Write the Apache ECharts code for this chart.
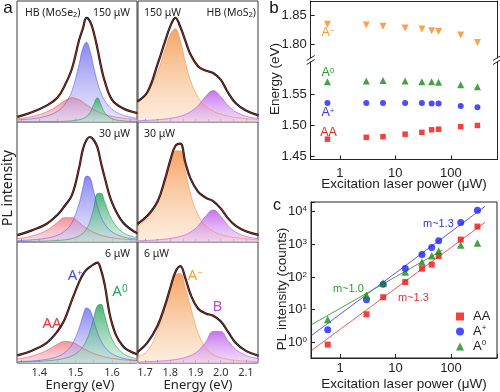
<!DOCTYPE html>
<html><head><meta charset="utf-8">
<script src="https://cdn.jsdelivr.net/npm/echarts@6/dist/echarts.min.js"></script>
<style>html,body{margin:0;padding:0;background:#fff}#c{width:500px;height:392px}</style>
</head><body><div id="c"></div>
<script>
// ---------- Panel a : PL spectra (intensity in arbitrary units, 0-100 = subpanel height) ----------
const energyLeft  = [1.34, 1.38, 1.42, 1.45, 1.47, 1.49, 1.51, 1.52, 1.53, 1.54, 1.55, 1.56, 1.57, 1.58, 1.60, 1.63, 1.67];
const energyRight = [1.67, 1.71, 1.75, 1.78, 1.80, 1.82, 1.84, 1.86, 1.88, 1.91, 1.94, 1.97, 2.00, 2.03, 2.06, 2.10, 2.15];
// MoSe2, 150 uW
const tl_AA    = [2.7, 4.5, 8.2, 13.4, 17.6, 20, 18.3, 16.4, 14.3, 12.2, 10.3, 8.8, 7.4, 6.3, 4.7, 3.2, 2.0];
const tl_Aplus = [1.7, 2.7, 4.9, 8.8, 14.3, 25.6, 48, 60.9, 66, 58.6, 45.2, 33, 24, 17.8, 10.6, 5.7, 3.0];
const tl_A0    = [0.1, 0.2, 0.3, 0.4, 0.6, 1.0, 1.9, 2.8, 4.4, 7.8, 14.4, 20, 14.4, 7.8, 2.8, 1.0, 0.4];
const tl_data  = [4.2, 8.0, 13.5, 20, 30, 44, 68, 77, 86, 83, 74, 61, 46, 34, 18.5, 11.3, 7.3];
// MoSe2, 30 uW
const ml_AA    = [2.8, 4.9, 9.6, 16.2, 20.3, 20.3, 16.2, 13.7, 11.5, 9.6, 8.0, 6.7, 5.7, 4.9, 3.6, 2.5, 1.6];
const ml_Aplus = [1.1, 1.8, 3.2, 5.6, 9.0, 16.1, 32.3, 44.8, 54.9, 53.5, 42.2, 30.1, 21.1, 15.1, 8.5, 4.4, 2.3];
const ml_A0    = [0.3, 0.5, 0.8, 1.3, 1.8, 2.9, 5.1, 7.2, 10.8, 17.2, 28.2, 40.4, 40.6, 33.6, 18.5, 8.0, 3.5];
const ml_data  = [5.7, 9.7, 15, 22.5, 30, 39, 62, 77, 85, 87.5, 85, 79, 66, 54, 33, 16.5, 7.2];
// MoSe2, 6 uW
const bl_AA    = [3.3, 5.7, 10.3, 15.5, 17.8, 17.2, 14.1, 12.3, 10.7, 9.1, 7.8, 6.7, 5.8, 5.1, 3.9, 2.7, 1.8];
const bl_Aplus = [1.1, 1.7, 3.0, 5.3, 8.5, 15.1, 29, 38.7, 45.5, 43.6, 34.8, 25.4, 18.3, 13.3, 7.7, 4.0, 2.1];
const bl_A0    = [0.8, 1.1, 1.8, 2.7, 3.9, 5.9, 9.9, 13.4, 18.7, 26.6, 37.3, 47.3, 48.5, 39.6, 20, 8.0, 3.3];
const bl_data  = [6.3, 10.2, 16.5, 26, 36, 52, 67, 73, 77, 79.5, 81.5, 83, 77, 65, 33, 14, 7.2];
// MoS2, 150 uW
const tr_Aminus = [15.6, 24.8, 41.7, 60.6, 72.4, 77, 67.2, 49.5, 34.5, 20.6, 13.2, 9.0, 6.5, 4.9, 3.8, 2.8, 2.1];
const tr_B      = [1.1, 1.4, 1.9, 2.5, 3.1, 3.8, 4.8, 6.3, 8.4, 13.4, 21.1, 26, 21.1, 13.4, 8.4, 4.8, 2.8];
const tr_data   = [17, 25, 48, 67, 79, 86, 78.5, 67, 56, 46, 42.5, 40.5, 35, 24, 15.5, 9.5, 5.5];
// MoS2, 30 uW
const mr_Aminus = [12.9, 20.2, 33.9, 51.3, 65.1, 75.9, 76, 59.4, 40.6, 22.7, 13.8, 9.0, 6.3, 4.7, 3.6, 2.6, 1.9];
const mr_B      = [1.0, 1.35, 1.85, 2.4, 3.0, 3.7, 4.7, 6.1, 8.2, 13.4, 21.4, 26.7, 21.4, 13.4, 8.2, 4.7, 2.7];
const mr_data   = [15, 22, 34, 53, 68, 80, 82, 66, 53, 42, 37, 34, 28, 19.5, 13.5, 9, 6];
// MoS2, 6 uW
const br_Aminus = [5, 10, 27, 50, 63, 73, 74, 62, 47, 25, 13, 7, 4.5, 3, 2.2, 1.6, 1.2];
const br_B      = [0.8, 1.1, 1.5, 1.9, 2.3, 2.8, 3.5, 4.6, 6.1, 9.9, 17, 26.1, 26.1, 18.1, 11.3, 6.3, 3.5];
const br_data   = [9, 17, 31, 48, 62, 75, 80, 70, 57, 45, 41, 39, 34.5, 25.5, 16.5, 10, 6];
const leftTickLabels  = [1.4, 1.5, 1.6];
const rightTickLabels = [1.7, 1.8, 1.9, 2.0, 2.1];
const leftTicks  = [1.35, 1.40, 1.45, 1.50, 1.55, 1.60, 1.65];
const rightTicks = [1.70, 1.75, 1.80, 1.85, 1.90, 1.95, 2.00, 2.05, 2.10];

// ---------- Panel b : peak energy vs power ----------
const power   = [0.6, 3, 6, 15, 30, 45, 60, 150, 300];
const b_Aminus = [1.834, 1.833, 1.831, 1.828, 1.826, 1.823, 1.822, 1.816, 1.803];
const b_A0     = [1.570, 1.571, 1.572, 1.571, 1.570, 1.570, 1.569, 1.565, 1.562];
const b_Aplus  = [1.536, 1.536, 1.536, 1.536, 1.536, 1.535, 1.535, 1.531, 1.529];
const b_AA     = [1.478, 1.481, 1.482, 1.486, 1.489, 1.493, 1.494, 1.498, 1.500];
const bUpperLabels = [1.80, 1.85];
const bLowerLabels = [1.45, 1.50, 1.55];

// ---------- Panel c : PL intensity vs power ----------
const c_AA    = [0.85, 7.2, 24, 70, 180, 240, 440, 1400, 3500];
const c_Aplus = [2.4, 20, 60, 182, 490, 800, 1290, 4700, 11000];
const c_A0    = [5, 27.6, 65, 143, 290, 445, 630, 960, 1100];
const fit_AA    = [[0.31, 0.57], [411, 4700]];
const fit_Aplus = [[0.31, 1.64], [411, 14500]];
const fit_A0    = [[0.31, 3.5], [70, 660]];

// ---------------------------------------------------------------
const chart = echarts.init(document.getElementById('c'));
const FA = '"Noto Sans", "Open Sans", sans-serif';
const FB = '"Liberation Sans", Arial, sans-serif';
const pairs = (xs, ys) => xs.map((x, i) => [x, ys[i]]);
const grad = (t, b) => new echarts.graphic.LinearGradient(0, 0, 0, 1, [{offset: 0, color: t}, {offset: 1, color: b}]);
const STY = {
  AA:     {line: 'rgba(220,80,95,0.9)',  top: 'rgba(240,105,115,0.72)', bot: 'rgba(246,196,210,0.55)'},
  Aplus:  {line: 'rgba(80,80,220,0.9)',  top: 'rgba(95,95,240,0.75)',   bot: 'rgba(205,200,246,0.45)'},
  A0:     {line: 'rgba(30,140,80,0.9)',  top: 'rgba(35,160,90,0.8)',    bot: 'rgba(175,228,200,0.5)'},
  Aminus: {line: 'rgba(235,140,70,0.9)', top: 'rgba(245,155,85,0.9)',   bot: 'rgba(252,226,200,0.6)'},
  B:      {line: 'rgba(170,70,220,0.9)', top: 'rgba(185,85,235,0.82)',  bot: 'rgba(228,185,246,0.5)'}
};
const panelsA = [
  {g: {left: 17,  top: 1,   width: 120, height: 121}, xr: [1.339, 1.669], E: energyLeft,  comps: [['AA', tl_AA], ['Aplus', tl_Aplus], ['A0', tl_A0]], d: tl_data, bottom: false, left: true},
  {g: {left: 138, top: 1,   width: 120, height: 121}, xr: [1.672, 2.148], E: energyRight, comps: [['Aminus', tr_Aminus], ['B', tr_B]], d: tr_data, bottom: false, left: false},
  {g: {left: 17,  top: 122, width: 120, height: 120}, xr: [1.339, 1.669], E: energyLeft,  comps: [['AA', ml_AA], ['Aplus', ml_Aplus], ['A0', ml_A0]], d: ml_data, bottom: false, left: true},
  {g: {left: 138, top: 122, width: 120, height: 120}, xr: [1.672, 2.148], E: energyRight, comps: [['Aminus', mr_Aminus], ['B', mr_B]], d: mr_data, bottom: false, left: false},
  {g: {left: 17,  top: 242, width: 120, height: 121}, xr: [1.339, 1.669], E: energyLeft,  comps: [['AA', bl_AA], ['Aplus', bl_Aplus], ['A0', bl_A0]], d: bl_data, bottom: true, left: true},
  {g: {left: 138, top: 242, width: 120, height: 121}, xr: [1.672, 2.148], E: energyRight, comps: [['Aminus', br_Aminus], ['B', br_B]], d: br_data, bottom: true, left: false}
];
const grids = [], xAxes = [], yAxes = [], series = [];
panelsA.forEach((p, i) => {
  grids.push(Object.assign({show: true, borderColor: '#3a3a3a', borderWidth: 1, backgroundColor: '#fff'}, p.g));
  xAxes.push({type: 'value', gridIndex: i, min: p.xr[0], max: p.xr[1],
    axisLine: {show: false}, splitLine: {show: false},
    axisTick: {show: true, inside: true, length: 3, customValues: p.left ? leftTicks : rightTicks, lineStyle: {color: '#444'}},
    axisLabel: {show: p.bottom, customValues: p.left ? leftTickLabels : rightTickLabels, formatter: v => v.toFixed(1),
      fontSize: 11, color: '#333', margin: 4, fontFamily: FA}});
  yAxes.push({type: 'value', gridIndex: i, min: 0, max: 100, show: false});
  p.comps.forEach(([k, arr]) => {
    const s = STY[k];
    series.push({type: 'line', xAxisIndex: i, yAxisIndex: i, data: pairs(p.E, arr), smooth: 0.4, symbol: 'none', silent: true,
      lineStyle: {width: 0.6, color: s.line}, areaStyle: {color: grad(s.top, s.bot), opacity: 1}, z: 2});
  });
  series.push({type: 'line', xAxisIndex: i, yAxisIndex: i, data: pairs(p.E, p.d), smooth: 0.4, symbol: 'none', silent: true,
    lineStyle: {width: 2.2, color: '#141414'}, z: 3});
  series.push({type: 'line', xAxisIndex: i, yAxisIndex: i, data: pairs(p.E, p.d), smooth: 0.4, symbol: 'none', silent: true,
    lineStyle: {width: 0.8, color: '#b83228'}, z: 4});
});

// panel b grids (6 upper, 7 lower)
grids.push({left: 310.7, right: 3, top: 1, height: 57});
grids.push({left: 310.7, right: 3, top: 62, height: 97.5});
const logFmt = v => { const l = Math.log10(v); return Math.abs(l - Math.round(l)) < 1e-6 ? String(Math.round(v)) : ''; };
xAxes.push({type: 'log', gridIndex: 6, min: 0.3, max: 675, position: 'top',
  axisLine: {show: true, onZero: false, lineStyle: {color: '#222'}}, axisTick: {show: false}, axisLabel: {show: false}, splitLine: {show: false}});
xAxes.push({type: 'log', gridIndex: 7, min: 0.3, max: 675, position: 'bottom',
  axisLine: {show: true, onZero: false, lineStyle: {color: '#222'}}, axisTick: {show: true, inside: true, length: 4, lineStyle: {color: '#222'}},
  axisLabel: {formatter: logFmt, fontSize: 13, color: '#222', margin: 7, fontFamily: FB}, splitLine: {show: false}});
const bY = (grid, min, max, labels, pos) => ({type: 'value', gridIndex: grid, min: min, max: max, position: pos,
  axisLine: {show: true, onZero: false, lineStyle: {color: '#222'}},
  axisTick: {show: pos === 'left', inside: true, length: 4, customValues: labels, lineStyle: {color: '#222'}},
  axisLabel: {show: pos === 'left', customValues: labels, formatter: v => v.toFixed(2), fontSize: 13, color: '#222', margin: 4, fontFamily: FB},
  splitLine: {show: false}});
yAxes.push(bY(6, 1.7766, 1.8739, bUpperLabels, 'left'));   // 6
yAxes.push(bY(6, 1.7766, 1.8739, bUpperLabels, 'right'));  // 7
yAxes.push(bY(7, 1.4455, 1.6015, bLowerLabels, 'left'));   // 8
yAxes.push(bY(7, 1.4455, 1.6015, bLowerLabels, 'right'));  // 9
const bSc = (name, xi, yi, arr, sym, size, color, rot) => ({type: 'scatter', name: name, xAxisIndex: xi, yAxisIndex: yi,
  data: pairs(power, arr), symbol: sym, symbolSize: size, symbolRotate: rot || 0, itemStyle: {color: color}, silent: true, z: 5});
series.push(bSc('b A-', 6, 6, b_Aminus, 'triangle', 7, '#ff8a1e', 180));
series.push(bSc('b A0', 7, 8, b_A0, 'triangle', 7, '#168a16'));
series.push(bSc('b A+', 7, 8, b_Aplus, 'circle', 6, '#1e1eff'));
series.push(bSc('b AA', 7, 8, b_AA, 'rect', 5.5, '#ee1111'));

// panel c grid 8
grids.push({left: 311, right: 2, top: 202, height: 156, show: true, borderColor: '#222', borderWidth: 1});
xAxes.push({type: 'log', gridIndex: 8, min: 0.3, max: 675,
  axisLine: {show: true, onZero: false, lineStyle: {color: '#222'}}, axisTick: {show: true, inside: true, length: 4, lineStyle: {color: '#222'}},
  axisLabel: {formatter: logFmt, fontSize: 13, color: '#222', margin: 4, fontFamily: FB}, splitLine: {show: false}});
yAxes.push({type: 'log', gridIndex: 8, min: 0.33, max: 19800,
  axisLine: {show: true, onZero: false, lineStyle: {color: '#222'}}, axisTick: {show: true, inside: true, length: 4, lineStyle: {color: '#222'}},
  axisLabel: {formatter: v => { const l = Math.log10(v); return Math.abs(l - Math.round(l)) < 1e-6 ? '10{sup|' + Math.round(l) + '}' : ''; },
    fontSize: 13, color: '#222', margin: 4, fontFamily: FB,
    rich: {sup: {fontSize: 8, verticalAlign: 'top', fontFamily: FB, color: '#222'}}}, splitLine: {show: false}});
const fitL = (arr, color) => ({type: 'line', xAxisIndex: 8, yAxisIndex: 10, data: arr, symbol: 'none', silent: true,
  lineStyle: {width: 1, color: color}, z: 3});
series.push(fitL(fit_AA, '#ee5a5a'));
series.push(fitL(fit_Aplus, '#5a5aee'));
series.push(fitL(fit_A0, '#4f9f4f'));
series.push(bSc('AA', 8, 10, c_AA, 'rect', 6, '#ee1111'));
series.push(bSc('A+', 8, 10, c_Aplus, 'circle', 7, '#1e1eff'));
series.push(bSc('A0', 8, 10, c_A0, 'triangle', 7.5, '#168a16'));

// text helpers
const T = (text, x, y, size, color, opts) => Object.assign({type: 'text', x: x, y: y, silent: true,
  style: Object.assign({text: text, fill: color || '#222', fontSize: size, fontFamily: FB,
    align: 'center', textAlign: 'center', verticalAlign: 'middle', textVerticalAlign: 'middle',
    rich: {sup: {fontSize: Math.round(size * 0.62), verticalAlign: 'top', fill: color || '#222', fontFamily: FB},
           sub: {fontSize: Math.round(size * 0.7), verticalAlign: 'bottom', fill: color || '#222', fontFamily: FB}}}, opts && opts.style)},
  opts && opts.el);
const A = {style: {fontFamily: FA}};
const AF = (al) => ({style: {fontFamily: FA, align: al, textAlign: al,
  rich: {sub: {fontSize: 7.5, verticalAlign: 'bottom', fontFamily: FA, fill: '#222'}, sup: {fontSize: 9, verticalAlign: 'top', fontFamily: FA}}}});
const brk = x => [
  {type: 'line', silent: true, shape: {x1: x - 4, y1: 60.5, x2: x + 4, y2: 55.5}, style: {stroke: '#222', lineWidth: 1}},
  {type: 'line', silent: true, shape: {x1: x - 4, y1: 64.5, x2: x + 4, y2: 59.5}, style: {stroke: '#222', lineWidth: 1}}
];
const supStyle = (c, size, fam) => ({style: {fontFamily: fam, rich: {sup: {fontSize: size, verticalAlign: 'top', fill: c, fontFamily: fam}}}});

const graphics = [
  T('a', 8, 8, 17, '#111'),
  T('b', 274, 8, 17, '#111'),
  T('c', 277, 206, 16, '#111'),
  // panel a
  T('HB (MoSe{sub|2})', 25, 13, 10.5, '#222', AF('left')),
  T('150 μW', 130, 13, 10.5, '#222', AF('right')),
  T('150 μW', 144, 13, 10.5, '#222', AF('left')),
  T('HB (MoS{sub|2})', 256, 13, 10.5, '#222', AF('right')),
  T('30 μW', 130, 134, 10.5, '#222', AF('right')),
  T('30 μW', 144, 134, 10.5, '#222', AF('left')),
  T('6 μW', 130, 254, 10.5, '#222', AF('right')),
  T('6 μW', 144, 254, 10.5, '#222', AF('left')),
  T('AA', 52, 324, 15, '#e8383a', A),
  T('A{sup|+}', 75, 276, 15, '#4a4ae0', supStyle('#4a4ae0', 9, FA)),
  T('A{sup|0}', 120, 292, 15, '#2aa55a', supStyle('#2aa55a', 10, FA)),
  T('A{sup|−}', 195, 276, 15, '#f0a630', supStyle('#f0a630', 9, FA)),
  T('B', 217.5, 307, 15, '#b04fe0', A),
  T('Energy (eV)', 80, 385, 13, '#222', A),
  T('Energy (eV)', 198, 385, 13, '#222', A),
  T('PL intensity', 8, 188, 14, '#222', {style: {fontFamily: FA}, el: {rotation: Math.PI / 2}}),
  // panel b
  T('A{sup|−}', 328, 33, 12.5, '#f39a3a', supStyle('#f39a3a', 8, FB)),
  T('A{sup|0}', 328, 73, 12.5, '#2a9a2a', supStyle('#2a9a2a', 8, FB)),
  T('A{sup|+}', 328, 113, 12.5, '#3838e8', supStyle('#3838e8', 8, FB)),
  T('AA', 328.5, 133, 12.5, '#ee2020'),
  T('Energy (eV)', 275, 79, 13.5, '#222', {el: {rotation: Math.PI / 2}}),
  T('Excitation laser power (μW)', 404, 184, 13.5, '#222'),
  // panel c
  T('PL intensity (counts)', 282, 289, 13.5, '#222', {el: {rotation: Math.PI / 2}}),
  T('Excitation laser power (μW)', 404, 384, 13.5, '#222'),
  T('m~1.3', 423, 224, 11, '#3030e0', {style: {align: 'left', textAlign: 'left'}}),
  T('m~1.0', 333, 289, 11, '#2a9a2a', {style: {align: 'left', textAlign: 'left'}}),
  T('m~1.3', 398, 298, 11, '#e03030', {style: {align: 'left', textAlign: 'left'}})
].concat(brk(310.7), brk(497));

chart.setOption({
  animation: false,
  backgroundColor: '#fff',
  grid: grids,
  xAxis: xAxes,
  yAxis: yAxes,
  series: series,
  legend: {data: ['AA', 'A+', 'A0'], orient: 'vertical', left: 451, top: 304, itemWidth: 8, itemHeight: 8, itemGap: 0,
    selectedMode: false,
    formatter: n => n === 'AA' ? 'AA' : 'A{sup|' + (n === 'A+' ? '+' : '0') + '}',
    textStyle: {fontSize: 13, fontFamily: FB, color: '#222', lineHeight: 15, padding: [0, 0, 0, 4],
      rich: {sup: {fontSize: 8, verticalAlign: 'top', fontFamily: FB, color: '#222'}}}},
  graphic: graphics
});
</script></body></html>
